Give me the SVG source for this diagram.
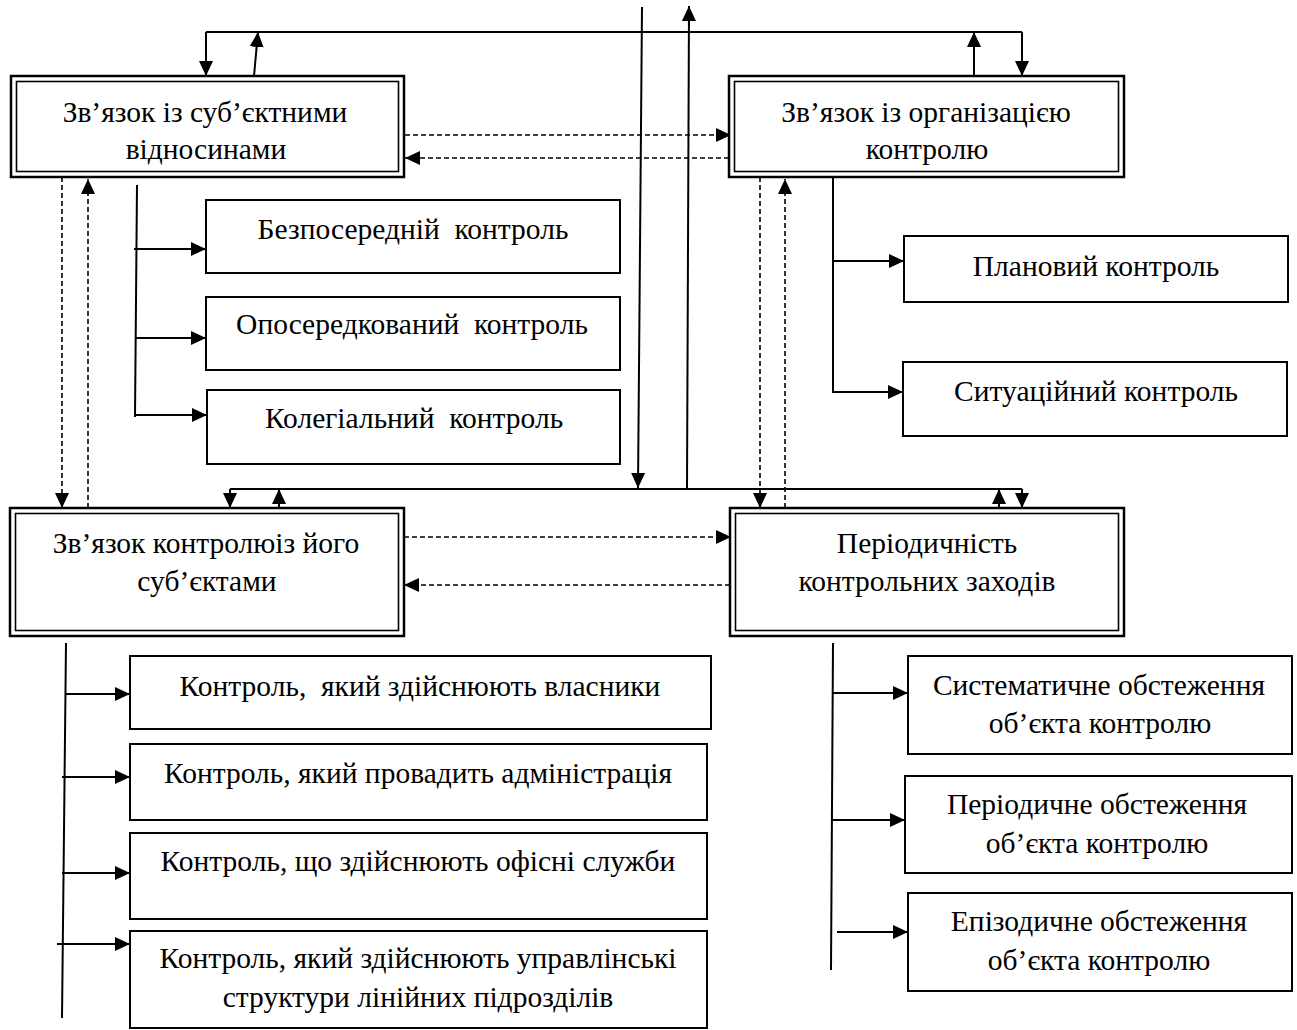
<svg xmlns="http://www.w3.org/2000/svg" width="1297" height="1030" viewBox="0 0 1297 1030">
<style>
.box{fill:#fff;stroke:#000;stroke-width:2}
.dout{fill:#fff;stroke:#000;stroke-width:2.5}
.din{fill:none;stroke:#000;stroke-width:1.6}
.ln{fill:none;stroke:#000;stroke-width:2}
.ds{fill:none;stroke:#000;stroke-width:1.6;stroke-dasharray:5 3}
text{font-family:"Liberation Serif","Times New Roman",serif;font-size:29.5px;text-anchor:middle;fill:#000;white-space:pre}
</style>
<defs>
<marker id="ah" markerUnits="userSpaceOnUse" markerWidth="16" markerHeight="14" refX="15" refY="7" orient="auto">
<path d="M0,0 L15,7 L0,14 z" fill="#000" stroke="none"/>
</marker>
</defs>
<rect width="1297" height="1030" fill="#fff"/>

<g id="connectors">
<!-- top link -->
<path class="ln" d="M206,32 H1022"/>
<path class="ln" d="M206,32 V76" marker-end="url(#ah)"/>
<path class="ln" d="M1022,32 V76" marker-end="url(#ah)"/>
<path class="ln" d="M254,76 L258,32" marker-end="url(#ah)"/>
<path class="ln" d="M974,76 V32" marker-end="url(#ah)"/>
<!-- central verticals -->
<path class="ln" d="M642,7 L638,488" marker-end="url(#ah)"/>
<path class="ln" d="M687,489 L689,6" marker-end="url(#ah)"/>
<!-- middle link -->
<path class="ln" d="M230,489 H1022"/>
<path class="ln" d="M230,489 V508" marker-end="url(#ah)"/>
<path class="ln" d="M1022,489 V508" marker-end="url(#ah)"/>
<path class="ln" d="M279,508 V489" marker-end="url(#ah)"/>
<path class="ln" d="M999,508 V489" marker-end="url(#ah)"/>
<!-- dashed horizontal -->
<path class="ds" d="M405,135 H731" marker-end="url(#ah)"/>
<path class="ds" d="M729,158 H405" marker-end="url(#ah)"/>
<path class="ds" d="M404,537 H731" marker-end="url(#ah)"/>
<path class="ds" d="M730,585 H404" marker-end="url(#ah)"/>
<!-- dashed vertical -->
<path class="ds" d="M62,177 V508" marker-end="url(#ah)"/>
<path class="ds" d="M88,508 V179" marker-end="url(#ah)"/>
<path class="ds" d="M760,177 V508" marker-end="url(#ah)"/>
<path class="ds" d="M785,508 V179" marker-end="url(#ah)"/>
<!-- tree 1 left -->
<path class="ln" d="M137,185 L135,417"/>
<path class="ln" d="M134,249 H206" marker-end="url(#ah)"/>
<path class="ln" d="M136,338 H206" marker-end="url(#ah)"/>
<path class="ln" d="M136,415 H207" marker-end="url(#ah)"/>
<!-- tree 1 right -->
<path class="ln" d="M833,177 V392 H903" marker-end="url(#ah)"/>
<path class="ln" d="M833,261 H904" marker-end="url(#ah)"/>
<!-- tree 2 left -->
<path class="ln" d="M66,643 L62,1018"/>
<path class="ln" d="M66,694 H130" marker-end="url(#ah)"/>
<path class="ln" d="M62,777 H130" marker-end="url(#ah)"/>
<path class="ln" d="M62,873 H130" marker-end="url(#ah)"/>
<path class="ln" d="M57,944 H130" marker-end="url(#ah)"/>
<!-- tree 2 right -->
<path class="ln" d="M833,643 L831,970"/>
<path class="ln" d="M833,693 H908" marker-end="url(#ah)"/>
<path class="ln" d="M833,820 H905" marker-end="url(#ah)"/>
<path class="ln" d="M837,932 H908" marker-end="url(#ah)"/>
</g>

<g id="n-subj-rel">
<rect class="dout" x="11" y="76" width="393" height="101"/>
<rect class="din" x="16.5" y="81.5" width="382" height="90"/>
<text x="205" y="122">Зв’язок із суб’єктними</text>
<text x="206" y="159">відносинами</text>
</g>
<g id="n-org">
<rect class="dout" x="729" y="76" width="395" height="101"/>
<rect class="din" x="734.5" y="81.5" width="384" height="90"/>
<text x="926" y="122">Зв’язок із організацією</text>
<text x="927" y="159">контролю</text>
</g>
<g id="n-subjects">
<rect class="dout" x="10" y="508" width="394" height="128"/>
<rect class="din" x="15.5" y="513.5" width="383" height="117"/>
<text x="206" y="553">Зв’язок контролюіз його</text>
<text x="207" y="591">суб’єктами</text>
</g>
<g id="n-period">
<rect class="dout" x="730" y="508" width="394" height="128"/>
<rect class="din" x="735.5" y="513.5" width="383" height="117"/>
<text x="927" y="553">Періодичність</text>
<text x="927" y="591">контрольних заходів</text>
</g>

<g id="n-direct"><rect class="box" x="206" y="200" width="414" height="73"/><text x="413" y="239">Безпосередній  контроль</text></g>
<g id="n-indirect"><rect class="box" x="206" y="297" width="414" height="73"/><text x="412" y="334">Опосередкований  контроль</text></g>
<g id="n-collegial"><rect class="box" x="207" y="390" width="413" height="74"/><text x="414" y="428">Колегіальний  контроль</text></g>
<g id="n-planned"><rect class="box" x="904" y="236" width="384" height="66"/><text x="1096" y="276">Плановий контроль</text></g>
<g id="n-situational"><rect class="box" x="903" y="362" width="384" height="74"/><text x="1096" y="401">Ситуаційний контроль</text></g>

<g id="n-owners"><rect class="box" x="130" y="656" width="581" height="73"/><text x="420" y="696">Контроль,  який здійснюють власники</text></g>
<g id="n-admin"><rect class="box" x="130" y="744" width="577" height="76"/><text x="418" y="783">Контроль, який провадить адміністрація</text></g>
<g id="n-office"><rect class="box" x="130" y="833" width="577" height="86"/><text x="418" y="871">Контроль, що здійснюють офісні служби</text></g>
<g id="n-line"><rect class="box" x="130" y="931" width="577" height="97"/><text x="418" y="968">Контроль, який здійснюють управлінські</text><text x="418" y="1007">структури лінійних підрозділів</text></g>

<g id="n-systematic"><rect class="box" x="908" y="656" width="384" height="98"/><text x="1099" y="695">Систематичне обстеження</text><text x="1100" y="733">об’єкта контролю</text></g>
<g id="n-periodic"><rect class="box" x="905" y="776" width="387" height="97"/><text x="1097" y="814">Періодичне обстеження</text><text x="1097" y="853">об’єкта контролю</text></g>
<g id="n-episodic"><rect class="box" x="908" y="893" width="384" height="98"/><text x="1099" y="931">Епізодичне обстеження</text><text x="1099" y="970">об’єкта контролю</text></g>
</svg>
